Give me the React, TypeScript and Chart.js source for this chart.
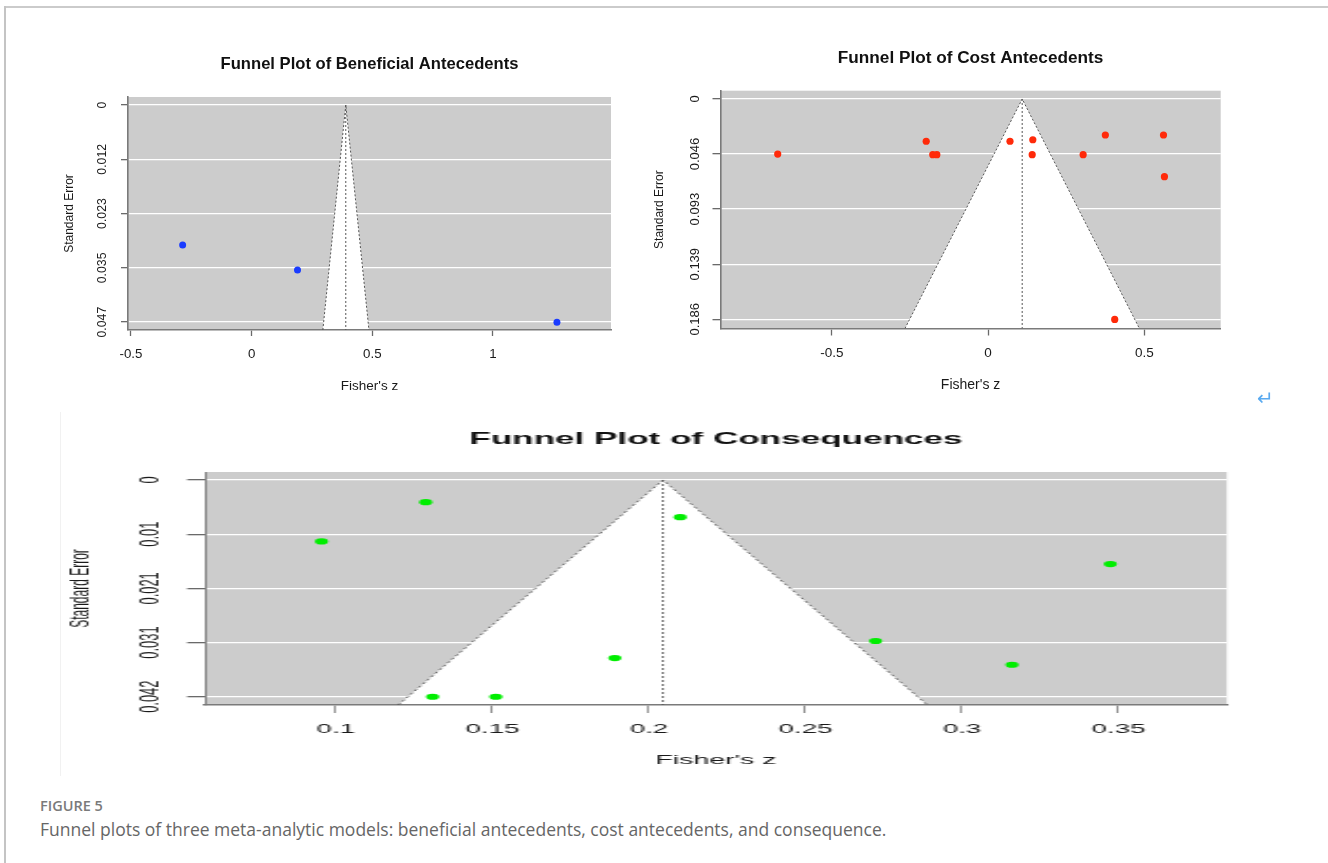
import React, { useEffect, useRef } from 'react';
import { Chart, registerables } from 'chart.js';

Chart.register(...registerables);

const FONT = '"Liberation Sans", Arial, Helvetica, sans-serif';
const CAPTION_FONT = '"Open Sans", "Noto Sans", sans-serif';

// ---------- Beneficial antecedents ----------
const benTitle = 'Funnel Plot of Beneficial Antecedents';
const benZ = [-0.286, 0.19, 1.265];
const benSE = [0.0303, 0.0357, 0.047];
const benFunnelZ = [0.295, 0.39, 0.486];
const benFunnelSE = [0.0487, 0, 0.0487];
const benXTicks = [-0.5, 0, 0.5, 1];
const benXLabels = ['-0.5', '0', '0.5', '1'];
const benYTicks = [0, 0.01175, 0.0235, 0.03525, 0.047];
const benYLabels = ['0', '0.012', '0.023', '0.035', '0.047'];
const benXRange = [-0.5124, 1.489];
const benYRange = [-0.00173, 0.0487];

// ---------- Cost antecedents ----------
const costTitle = 'Funnel Plot of Cost Antecedents';
const costZ = [-0.673, -0.198, -0.177, -0.164, 0.07, 0.143, 0.141, 0.304, 0.375, 0.405, 0.561, 0.564];
const costSE = [0.0465, 0.0357, 0.047, 0.047, 0.0357, 0.0344, 0.047, 0.047, 0.0304, 0.1861, 0.0304, 0.0656];
const costFunnelZ = [-0.266, 0.109, 0.484];
const costFunnelSE = [0.1938, 0, 0.1938];
const costXTicks = [-0.5, 0, 0.5];
const costXLabels = ['-0.5', '0', '0.5'];
const costYTicks = [0, 0.0465, 0.093, 0.1395, 0.186];
const costYLabels = ['0', '0.046', '0.093', '0.139', '0.186'];
const costXRange = [-0.856, 0.744];
const costYRange = [-0.007, 0.1938];

// ---------- Consequences ----------
const conTitle = 'Funnel Plot of Consequences';
const conZ = [0.0954, 0.1287, 0.1309, 0.1511, 0.21, 0.1891, 0.2724, 0.316, 0.3474];
const conSE = [0.0119, 0.0043, 0.042, 0.042, 0.0072, 0.0345, 0.0312, 0.0358, 0.0163];
const conFunnelZ = [0.1199, 0.2045, 0.289];
const conFunnelSE = [0.0436, 0, 0.0436];
const conXTicks = [0.1, 0.15, 0.2, 0.25, 0.3, 0.35];
const conXLabels = ['0.1', '0.15', '0.2', '0.25', '0.3', '0.35'];
const conYTicks = [0, 0.0105, 0.021, 0.0315, 0.042];
const conYLabels = ['0', '0.01', '0.021', '0.031', '0.042'];
const conXRange = [0.0582, 0.3846];
const conYRange = [-0.00155, 0.0436];

const xAxisTitle = "Fisher's z";
const yAxisTitle = 'Standard Error';
const figureLabel = 'FIGURE 5';
const figureCaption =
  'Funnel plots of three meta-analytic models: beneficial antecedents, cost antecedents, and consequence.';

type Layout = {
  w: number; h: number;
  padTop: number; padRight: number;
  yAxisW: number; xAxisH: number;
  titleY: number; titleSize: number;
  yTitleSize: number; yTitlePad: number;
  yTickSize: number; yTickLen: number; yTickPad: number;
  xTickSize: number; xTickLen: number; xTickPad: number;
  xTitleSize: number; xTitlePad: number;
  r: number;
  yBorderW: number; xTickW: number; dotW: number;
};

type FunnelProps = {
  title: string;
  z: number[]; se: number[];
  fz: number[]; fse: number[];
  xTicks: number[]; xLabels: string[];
  yTicks: number[]; yLabels: string[];
  xRange: number[]; yRange: number[];
  color: string;
  L: Layout;
};

function FunnelChart(p: FunnelProps) {
  const ref = useRef<HTMLCanvasElement | null>(null);
  useEffect(() => {
    const canvas = ref.current;
    if (!canvas) return;
    const { L } = p;
    const bgPlugin = {
      id: 'funnelBg',
      beforeDraw(chart: any) {
        const { ctx, chartArea: a, scales } = chart;
        ctx.save();
        ctx.fillStyle = '#cccccc';
        ctx.fillRect(a.left, a.top, a.right - a.left, a.bottom - a.top);
        ctx.beginPath();
        p.fz.forEach((v, i) => {
          const px = scales.x.getPixelForValue(v);
          const py = scales.y.getPixelForValue(p.fse[i]);
          if (i === 0) ctx.moveTo(px, py);
          else ctx.lineTo(px, py);
        });
        ctx.closePath();
        ctx.fillStyle = '#ffffff';
        ctx.fill();
        ctx.restore();
      },
    };
    const titlePlugin = {
      id: 'mainTitle',
      afterDraw(chart: any) {
        const { ctx, chartArea: a } = chart;
        ctx.save();
        ctx.font = `bold ${L.titleSize}px ${FONT}`;
        ctx.fillStyle = '#111111';
        ctx.textAlign = 'center';
        ctx.textBaseline = 'middle';
        ctx.fillText(p.title, (a.left + a.right) / 2, L.titleY);
        ctx.restore();
      },
    };
    const dotted = {
      showLine: true,
      borderColor: '#555555',
      borderWidth: L.dotW,
      borderDash: [2, 2],
      pointRadius: 0,
      pointHoverRadius: 0,
      fill: false,
    };
    const chart = new Chart(canvas, {
      type: 'scatter',
      data: {
        datasets: [
          {
            data: p.z.map((v, i) => ({ x: v, y: p.se[i] })),
            pointRadius: L.r,
            pointHoverRadius: L.r,
            backgroundColor: p.color,
            borderColor: p.color,
            pointBorderWidth: 0,
            borderWidth: 0,
          },
          { ...dotted, data: p.fz.map((v, i) => ({ x: v, y: p.fse[i] })) },
          {
            ...dotted,
            data: [
              { x: p.fz[1], y: p.fse[1] },
              { x: p.fz[1], y: p.fse[0] },
            ],
          },
        ],
      },
      options: {
        animation: false,
        responsive: false,
        devicePixelRatio: 1,
        events: [],
        layout: { padding: { top: L.padTop, right: L.padRight, left: 0, bottom: 0 } },
        plugins: { legend: { display: false }, tooltip: { enabled: false } },
        scales: {
          x: {
            type: 'linear',
            position: 'bottom',
            min: p.xRange[0],
            max: p.xRange[1],
            afterBuildTicks: (s: any) => {
              s.ticks = p.xTicks.map((v) => ({ value: v }));
            },
            afterFit: (s: any) => {
              s.height = L.xAxisH;
            },
            grid: {
              drawOnChartArea: false,
              drawTicks: true,
              tickLength: L.xTickLen,
              tickColor: '#6a6a6a',
              tickWidth: L.xTickW,
            },
            border: { display: true, color: '#7a7a7a', width: 1.6 },
            ticks: {
              autoSkip: false,
              minRotation: 0,
              maxRotation: 0,
              padding: L.xTickPad,
              color: '#1a1a1a',
              font: { family: FONT, size: L.xTickSize },
              callback: (_v: any, i: number) => p.xLabels[i],
            },
            title: {
              display: true,
              text: xAxisTitle,
              color: '#1a1a1a',
              font: { family: FONT, size: L.xTitleSize },
              padding: { top: 0, bottom: L.xTitlePad },
            },
          },
          y: {
            type: 'linear',
            position: 'left',
            reverse: true,
            min: p.yRange[0],
            max: p.yRange[1],
            afterBuildTicks: (s: any) => {
              s.ticks = p.yTicks.map((v) => ({ value: v }));
            },
            afterFit: (s: any) => {
              s.width = L.yAxisW;
            },
            grid: {
              color: '#ffffff',
              lineWidth: 1.3,
              drawTicks: true,
              tickLength: L.yTickLen,
              tickColor: '#6a6a6a',
              tickWidth: 1.3,
            },
            border: { display: true, color: '#7a7a7a', width: L.yBorderW },
            ticks: {
              autoSkip: false,
              minRotation: 90,
              maxRotation: 90,
              crossAlign: 'center',
              padding: L.yTickPad,
              color: '#1a1a1a',
              font: { family: FONT, size: L.yTickSize },
              callback: (_v: any, i: number) => p.yLabels[i],
            },
            title: {
              display: true,
              text: yAxisTitle,
              color: '#1a1a1a',
              font: { family: FONT, size: L.yTitleSize },
              padding: { top: L.yTitlePad, bottom: 0 },
            },
          },
        },
      } as any,
      plugins: [bgPlugin, titlePlugin],
    });
    return () => chart.destroy();
  }, []);
  return (
    <canvas
      ref={ref}
      width={p.L.w}
      height={p.L.h}
      style={{ width: p.L.w, height: p.L.h, display: 'block' }}
    />
  );
}

const benLayout: Layout = {
  w: 600, h: 370, padTop: 57, padRight: 29, yAxisW: 88, xAxisH: 80,
  titleY: 24, titleSize: 16.6,
  yTitleSize: 12, yTitlePad: 22.8,
  yTickSize: 12.3, yTickLen: 7, yTickPad: 2.6,
  xTickSize: 13.3, xTickLen: 6, xTickPad: 10,
  xTitleSize: 13.5, xTitlePad: 15.9, r: 3.5,
  yBorderW: 1.6, xTickW: 1.3, dotW: 1,
};

const costLayout: Layout = {
  w: 640, h: 370, padTop: 50.7, padRight: 59.3, yAxisW: 80.5, xAxisH: 81.5,
  titleY: 18, titleSize: 17.2,
  yTitleSize: 12, yTitlePad: 12.8,
  yTickSize: 13, yTickLen: 8, yTickPad: 1.2,
  xTickSize: 13.5, xTickLen: 7, xTickPad: 9.4,
  xTitleSize: 14, xTitlePad: 16.6, r: 3.6,
  yBorderW: 1.6, xTickW: 1.3, dotW: 1,
};

const conLayout: Layout = {
  w: 580, h: 380, padTop: 62, padRight: 28.8, yAxisW: 68.1, xAxisH: 85,
  titleY: 29, titleSize: 16.6,
  yTitleSize: 12, yTitlePad: 2.6,
  yTickSize: 12.9, yTickLen: 8.5, yTickPad: 1.4,
  xTickSize: 13.1, xTickLen: 8, xTickPad: 8.1,
  xTitleSize: 13.5, xTitlePad: 21.2, r: 3.1,
  yBorderW: 0.9, xTickW: 0.7, dotW: 0.8,
};

const CON_STRETCH = 2.115;

export default function App() {
  return (
    <div
      style={{
        position: 'absolute',
        left: 0,
        top: 0,
        width: 1328,
        height: 863,
        background: '#ffffff',
        overflow: 'hidden',
      }}
    >
      {/* frame lines */}
      <div style={{ position: 'absolute', left: 5, top: 6, width: 1323, height: 2, background: '#cbcbcb' }} />
      <div style={{ position: 'absolute', left: 4, top: 6, width: 2, height: 857, background: '#c4c4c4' }} />
      <div style={{ position: 'absolute', left: 60, top: 412, width: 1, height: 364, background: '#f1f1f1' }} />

      <div style={{ position: 'absolute', left: 40, top: 40 }}>
        <FunnelChart
          title={benTitle}
          z={benZ}
          se={benSE}
          fz={benFunnelZ}
          fse={benFunnelSE}
          xTicks={benXTicks}
          xLabels={benXLabels}
          yTicks={benYTicks}
          yLabels={benYLabels}
          xRange={benXRange}
          yRange={benYRange}
          color="#1a3cff"
          L={benLayout}
        />
      </div>

      <div style={{ position: 'absolute', left: 640, top: 40 }}>
        <FunnelChart
          title={costTitle}
          z={costZ}
          se={costSE}
          fz={costFunnelZ}
          fse={costFunnelSE}
          xTicks={costXTicks}
          xLabels={costXLabels}
          yTicks={costYTicks}
          yLabels={costYLabels}
          xRange={costXRange}
          yRange={costYRange}
          color="#ff2a0a"
          L={costLayout}
        />
      </div>

      <div
        style={{
          position: 'absolute',
          left: 61,
          top: 410,
          width: conLayout.w,
          height: conLayout.h,
          transform: `scaleX(${CON_STRETCH})`,
          transformOrigin: '0 0',
        }}
      >
        <FunnelChart
          title={conTitle}
          z={conZ}
          se={conSE}
          fz={conFunnelZ}
          fse={conFunnelSE}
          xTicks={conXTicks}
          xLabels={conXLabels}
          yTicks={conYTicks}
          yLabels={conYLabels}
          xRange={conXRange}
          yRange={conYRange}
          color="#00ee00"
          L={conLayout}
        />
      </div>

      <div
        style={{
          position: 'absolute',
          left: 1257,
          top: 388,
          fontFamily: '"DejaVu Sans", sans-serif',
          fontSize: 20,
          lineHeight: '20px',
          color: '#5aaaf0',
        }}
      >
        ↵
      </div>

      <div
        style={{
          position: 'absolute',
          left: 40,
          top: 796,
          fontFamily: CAPTION_FONT,
          fontWeight: 600,
          fontSize: 14.5,
          lineHeight: '20px',
          color: '#7a7a7a',
          whiteSpace: 'nowrap',
        }}
      >
        {figureLabel}
      </div>
      <div
        style={{
          position: 'absolute',
          left: 40,
          top: 819,
          fontFamily: CAPTION_FONT,
          fontWeight: 400,
          fontSize: 17.5,
          lineHeight: '20px',
          color: '#666666',
          whiteSpace: 'nowrap',
        }}
      >
        {figureCaption}
      </div>
    </div>
  );
}
